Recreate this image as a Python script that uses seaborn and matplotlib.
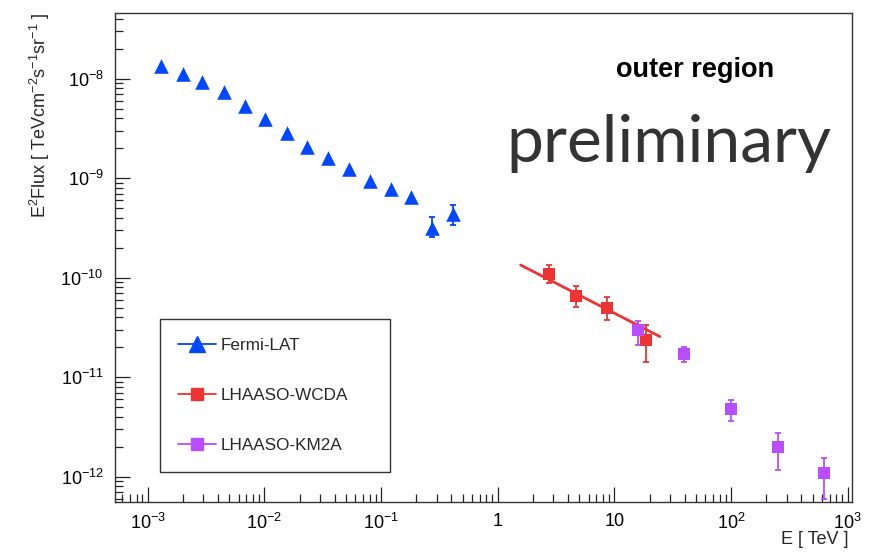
"""
Outer region SED: Fermi-LAT + LHAASO-WCDA + LHAASO-KM2A, E^2 Flux vs E.
"""

import numpy as np
import pandas as pd
import matplotlib
matplotlib.use('Agg')
import matplotlib.pyplot as plt
import seaborn as sns
from matplotlib.lines import Line2D
from matplotlib.ticker import FixedLocator, LogLocator, NullFormatter

# Fermi-LAT points (E in TeV, E^2 Flux in TeV cm^-2 s^-1 sr^-1)
fermi_e = [1.30e-3, 1.99e-3, 2.94e-3, 4.47e-3, 6.75e-3, 1.02e-2, 1.56e-2,
           2.31e-2, 3.48e-2, 5.30e-2, 8.04e-2, 0.121, 0.181, 0.274, 0.413]
fermi_flux = [1.33e-8, 1.12e-8, 9.18e-9, 7.27e-9, 5.37e-9, 3.91e-9, 2.86e-9,
              2.06e-9, 1.60e-9, 1.25e-9, 9.43e-10, 7.76e-10, 6.40e-10,
              3.15e-10, 4.38e-10]
fermi_lo = [np.nan] * 13 + [2.54e-10, 3.40e-10]
fermi_hi = [np.nan] * 13 + [4.10e-10, 5.43e-10]

# LHAASO-WCDA
wcda_e = [2.74, 4.65, 8.71, 18.6]
wcda_flux = [1.10e-10, 6.62e-11, 5.00e-11, 2.35e-11]
wcda_lo = [8.75e-11, 5.08e-11, 3.75e-11, 1.43e-11]
wcda_hi = [1.34e-10, 8.17e-11, 6.37e-11, 3.31e-11]

# WCDA power-law fit (end points)
fit_e = [1.57, 24.5]
fit_flux = [1.34e-10, 2.56e-11]

# LHAASO-KM2A
km2a_e = [15.8, 39.8, 100.0, 251.0, 631.0]
km2a_flux = [3.00e-11, 1.71e-11, 4.82e-12, 1.99e-12, 1.08e-12]
km2a_lo = [2.11e-11, 1.41e-11, 3.62e-12, 1.18e-12, 5.91e-13]
km2a_hi = [3.64e-11, 2.00e-11, 5.94e-12, 2.75e-12, 1.54e-12]

NAMES = ['Fermi-LAT', 'LHAASO-WCDA', 'LHAASO-KM2A']
COLORS = {'Fermi-LAT': '#0047ff', 'LHAASO-WCDA': '#ee3333', 'LHAASO-KM2A': '#b84dff'}
MARKERS = {'Fermi-LAT': '^', 'LHAASO-WCDA': 's', 'LHAASO-KM2A': 's'}

frames = []
for name, e, f, lo, hi in [
        ('Fermi-LAT', fermi_e, fermi_flux, fermi_lo, fermi_hi),
        ('LHAASO-WCDA', wcda_e, wcda_flux, wcda_lo, wcda_hi),
        ('LHAASO-KM2A', km2a_e, km2a_flux, km2a_lo, km2a_hi)]:
    frames.append(pd.DataFrame({'E': e, 'flux': f, 'lo': lo, 'hi': hi, 'instrument': name}))
df = pd.concat(frames, ignore_index=True)

sns.set_theme(style='ticks')
plt.rcParams['font.family'] = ['Liberation Sans', 'DejaVu Sans']
plt.rcParams['mathtext.fontset'] = 'custom'
plt.rcParams['mathtext.rm'] = 'Liberation Sans'
plt.rcParams['mathtext.it'] = 'Liberation Sans:italic'

fig = plt.figure(figsize=(8.89, 5.52), dpi=100)
ax = fig.add_axes([0.129, 0.091, 0.829, 0.886])
ax.set_xscale('log')
ax.set_yscale('log')

# error bars
for name in NAMES:
    sub = df[(df['instrument'] == name) & df['lo'].notna()]
    yerr = np.vstack([sub['flux'] - sub['lo'], sub['hi'] - sub['flux']])
    ax.errorbar(sub['E'], sub['flux'], yerr=yerr, fmt='none', ecolor=COLORS[name],
                elinewidth=1.3, capsize=2.2, capthick=1.3, zorder=2)

# fit line
sns.lineplot(x=fit_e, y=fit_flux, ax=ax, color=COLORS['LHAASO-WCDA'], linewidth=2.0, zorder=2)

# markers
sizes = {'Fermi-LAT': 110, 'LHAASO-WCDA': 75, 'LHAASO-KM2A': 75}
for name in NAMES:
    sub = df[df['instrument'] == name]
    sns.scatterplot(data=sub, x='E', y='flux', ax=ax, marker=MARKERS[name],
                    color=COLORS[name], s=sizes[name], linewidth=0, zorder=3)

ax.set_xlim(5.2e-4, 1.08e3)
ax.set_ylim(5.6e-13, 4.6e-8)

# ticks, ROOT style
xt = [1e-3, 1e-2, 1e-1, 1, 10, 100, 1000]
ax.xaxis.set_major_locator(FixedLocator(xt))
ax.set_xticklabels([r'$10^{-3}$', r'$10^{-2}$', r'$10^{-1}$', '1', '10', r'$10^{2}$', r'$10^{3}$'])
ax.xaxis.set_minor_locator(LogLocator(base=10, subs=np.arange(2, 10), numticks=20))
ax.xaxis.set_minor_formatter(NullFormatter())
yt = [1e-12, 1e-11, 1e-10, 1e-9, 1e-8]
ax.yaxis.set_major_locator(FixedLocator(yt))
ax.set_yticklabels([r'$10^{-12}$', r'$10^{-11}$', r'$10^{-10}$', r'$10^{-9}$', r'$10^{-8}$'])
ax.yaxis.set_minor_locator(LogLocator(base=10, subs=np.arange(2, 10), numticks=20))
ax.yaxis.set_minor_formatter(NullFormatter())
ax.tick_params(which='both', direction='in', top=False, right=False, color='#222222',
               labelsize=13, labelcolor='black')
ax.tick_params(which='major', length=11, width=0.9, pad=8)
ax.tick_params(which='minor', length=5.5, width=0.9)
for sp in ax.spines.values():
    sp.set_linewidth(1.0)
    sp.set_color('#333333')

ax.set_xlabel('')
ax.set_ylabel('')
fig.text(0.955, 0.008, 'E [ TeV ]', ha='right', va='bottom', fontsize=13)
fig.text(0.045, 0.977, r'E$^{2}$Flux [ TeVcm$^{-2}$s$^{-1}$sr$^{-1}$ ]', rotation=90,
         ha='center', va='top', fontsize=13)

# annotations
ax.text(0.788, 0.883, 'outer region', transform=ax.transAxes, ha='center', va='center',
        fontsize=19.5, fontweight='bold', color='black')
ax.text(0.752, 0.733, 'preliminary', transform=ax.transAxes, ha='center', va='center',
        fontsize=47.5, color='#333333', family='Lato')

handles = [Line2D([0], [0], color=COLORS[n], marker=MARKERS[n],
                  markersize=9 if n != 'Fermi-LAT' else 11, linewidth=1.3) for n in NAMES]
leg = ax.legend(handles, NAMES, loc='lower left', bbox_to_anchor=(0.061, 0.061, 0.312, 0.3),
                mode='expand', frameon=True, fancybox=False, edgecolor='#333333', framealpha=1,
                fontsize=12.3, labelspacing=2.05, handlelength=2.2, handletextpad=0.25,
                borderpad=1.1, borderaxespad=0)
leg.get_frame().set_linewidth(1.0)
leg.get_frame().set_facecolor('white')

fig.savefig('out.png', dpi=100, facecolor='white')
